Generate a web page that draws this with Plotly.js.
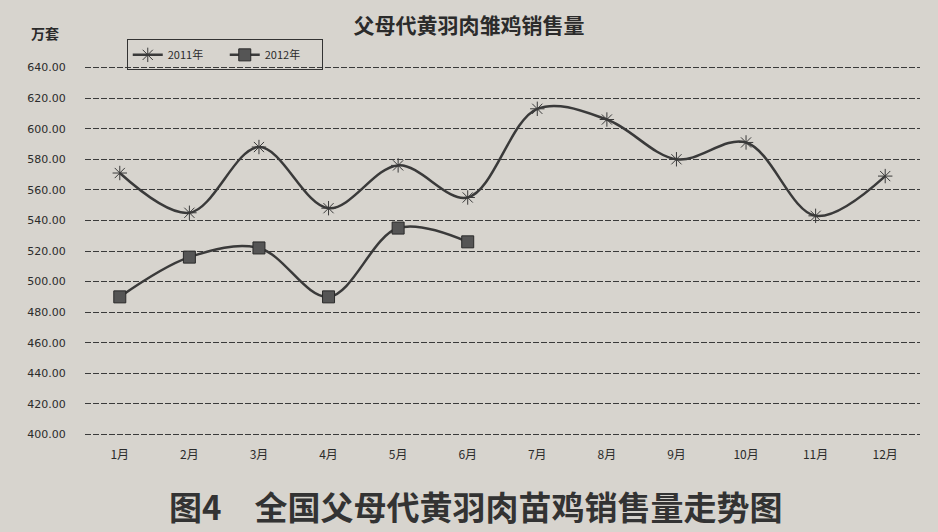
<!DOCTYPE html>
<html>
<head>
<meta charset="utf-8">
<script src="https://cdn.plot.ly/plotly-3.0.1.min.js"></script>
<style>
  html, body { margin: 0; padding: 0; background: #d7d4ce; }
  #chart { width: 938px; height: 532px; }
</style>
</head>
<body>
<div id="chart"></div>
<script>
const months = ["1月", "2月", "3月", "4月", "5月", "6月", "7月", "8月", "9月", "10月", "11月", "12月"];
const sales2011 = [571, 545, 588, 548, 576, 555, 613, 606, 580, 591, 543, 569];
const months2012 = ["1月", "2月", "3月", "4月", "5月", "6月"];
const sales2012 = [490, 516, 522, 490, 535, 526];
const yTicks = [400, 420, 440, 460, 480, 500, 520, 540, 560, 580, 600, 620, 640];

const font = "Noto Sans CJK SC, Noto Sans, sans-serif";
const ink = "#2b2b2b";

const traces = [
  {
    x: months, y: sales2011, name: "2011年", type: "scatter", mode: "lines+markers",
    line: { shape: "spline", smoothing: 1, color: "#3a3a3a", width: 2.5 },
    marker: { symbol: "asterisk-open", size: 12, line: { color: "#444", width: 1 } }
  },
  {
    x: months2012, y: sales2012, name: "2012年", type: "scatter", mode: "lines+markers",
    line: { shape: "spline", smoothing: 1, color: "#3a3a3a", width: 2.5 },
    marker: { symbol: "square", size: 12, color: "#555", line: { color: "#2a2a2a", width: 1 } }
  }
];

const layout = {
  width: 938, height: 532,
  paper_bgcolor: "#d7d4ce", plot_bgcolor: "#d7d4ce",
  margin: { l: 85, r: 18, t: 66, b: 96 },
  font: { family: font, color: ink, size: 12 },
  title: {
    text: "父母代黄羽肉雏鸡销售量",
    font: { family: font, size: 21, color: ink, weight: "bold" },
    x: 0.5, xanchor: "center", y: 0.952, yanchor: "middle"
  },
  showlegend: true,
  legend: {
    orientation: "h", x: 0.05, xanchor: "left", y: 1.072, yanchor: "top",
    bgcolor: "rgba(0,0,0,0)", bordercolor: "#333", borderwidth: 1,
    font: { family: font, size: 11, color: ink },
    entrywidth: 52, entrywidthmode: "pixels", itemwidth: 30, tracegroupgap: 0
  },
  xaxis: {
    type: "category", categoryarray: months, range: [-0.5, 11.5],
    showgrid: false, zeroline: false, showline: false,
    ticks: "outside", ticklen: 8, tickcolor: "rgba(0,0,0,0)",
    tickfont: { family: font, size: 12, color: ink }
  },
  yaxis: {
    range: [399, 641], tickvals: yTicks, tickformat: ".2f",
    showgrid: true, gridcolor: "#3a3a3a", griddash: "6px,2px", gridwidth: 1,
    zeroline: false, showline: false,
    ticks: "outside", ticklen: 16, tickcolor: "rgba(0,0,0,0)",
    tickfont: { family: "DejaVu Sans, sans-serif", size: 11, color: ink }
  },
  annotations: [
    {
      text: "万套", xref: "paper", yref: "paper", x: -0.048, y: 1.09,
      xanchor: "center", yanchor: "middle", showarrow: false,
      font: { family: font, size: 14, color: ink, weight: "bold" }
    },
    {
      text: "图4　全国父母代黄羽肉苗鸡销售量走势图", xref: "paper", yref: "paper",
      x: (475 - 85) / 835, y: -0.19, xanchor: "center", yanchor: "middle", showarrow: false,
      font: { family: font, size: 33, color: "#333", weight: "bold" }
    }
  ]
};

Plotly.newPlot("chart", traces, layout, { displayModeBar: false, staticPlot: true });
</script>
</body>
</html>
